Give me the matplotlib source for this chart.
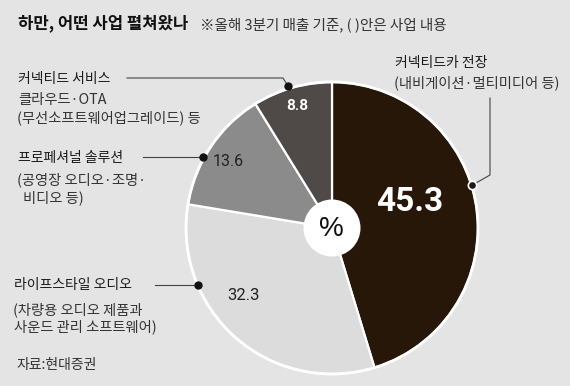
import matplotlib
matplotlib.use("Agg")
import matplotlib.pyplot as plt
from matplotlib.patches import Circle

plt.rcParams['font.family'] = ['Noto Sans CJK KR', 'DejaVu Sans']

# data
categories = ["커넥티드카 전장", "라이프스타일 오디오", "프로페셔널 솔루션", "커넥티드 서비스"]
values = [45.3, 32.3, 13.6, 8.8]
colors = ["#261709", "#dcdcdc", "#8b8b8b", "#4f4a47"]
value_labels = ["45.3", "32.3", "13.6", "8.8"]

W, H = 570, 386
BG = "#e4e4e4"
fig = plt.figure(figsize=(W / 100, H / 100), dpi=100, facecolor=BG)
ax = fig.add_axes([0, 0, 1, 1])
ax.set_facecolor(BG)

def Y(y):
    return H - y

cx, cy, R = 332, 228, 146
wedges, _ = ax.pie(values, colors=colors, startangle=90, counterclock=False,
                   center=(cx, Y(cy)), radius=R, frame=True,
                   wedgeprops=dict(edgecolor='white', linewidth=1.6))
ax.set_xlim(0, W)
ax.set_ylim(0, H)
ax.set_aspect('equal')
ax.axis('off')
ax.add_patch(Circle((cx, Y(cy)), R, fill=False, edgecolor='white', linewidth=2, zorder=3))
ax.add_patch(Circle((cx, Y(cy)), 28.5, facecolor='white', edgecolor='none', zorder=4))
ax.text(cx - 1, Y(cy + 1), "%", fontsize=20, ha='center', va='center', color='#111', zorder=5,
        family=['Liberation Sans', 'DejaVu Sans'])

# value labels
ax.text(410, Y(202), value_labels[0], fontsize=24, fontweight='bold', color='white',
        ha='center', va='center', family=['Roboto', 'DejaVu Sans'], zorder=5)
ax.text(244, Y(296), value_labels[1], fontsize=12, color='#222',
        ha='center', va='center', family=['Roboto', 'DejaVu Sans'], zorder=5)
ax.text(228, Y(162), value_labels[2], fontsize=11.5, color='#222',
        ha='center', va='center', family=['Roboto', 'DejaVu Sans'], zorder=5)
ax.text(297, Y(106), value_labels[3], fontsize=11, fontweight='bold', color='white',
        ha='center', va='center', family=['Roboto', 'DejaVu Sans'], zorder=5)

# title
ax.text(18, Y(23), "하만, 어떤 사업 펼쳐왔나", fontsize=12, fontweight='bold', color='#111',
        ha='left', va='center')
ax.text(200, Y(25), "※올해 3분기 매출 기준, ( )안은 사업 내용", fontsize=10.5, color='#333',
        ha='left', va='center')

main_kw = dict(fontsize=10, color='#1a1a1a', ha='left', va='center')
sub_kw = dict(fontsize=10.3, color='#333', ha='left', va='center')
line_kw = dict(color='#444', linewidth=0.8, zorder=6)

# 커넥티드카 전장
ax.text(395, Y(63), categories[0], **main_kw)
ax.text(394, Y(83), "(내비게이션·멀티미디어 등)", **sub_kw)
ax.plot([490, 490, 476], [Y(98), Y(175), Y(183)], **line_kw)
ax.plot([472], [Y(185)], marker='o', markersize=6, markerfacecolor='#1a1a1a',
        markeredgecolor='white', markeredgewidth=1.2, zorder=7)

# 커넥티드 서비스
ax.text(18, Y(79), categories[3], **main_kw)
ax.text(18, Y(100), "클라우드·OTA", **sub_kw)
ax.text(17, Y(118), "(무선소프트웨어업그레이드) 등", **sub_kw)
ax.plot([127, 283, 288], [Y(78), Y(78), Y(86)], **line_kw)
ax.plot([288], [Y(86)], marker='o', markersize=5, color='#111', zorder=7)

# 프로페셔널 솔루션
ax.text(18, Y(158), categories[2], **main_kw)
ax.text(17, Y(180), "(공영장 오디오·조명·", **sub_kw)
ax.text(23, Y(198), "비디오 등)", **sub_kw)
ax.plot([143, 203], [Y(157), Y(157)], **line_kw)
ax.plot([203], [Y(157)], marker='o', markersize=5, color='#111', zorder=7)

# 라이프스타일 오디오
ax.text(14, Y(285), categories[1], **main_kw)
ax.text(13, Y(310), "(차량용 오디오 제품과", **sub_kw)
ax.text(14, Y(327), "사운드 관리 소프트웨어)", **sub_kw)
ax.plot([155, 198], [Y(285), Y(285)], **line_kw)
ax.plot([198], [Y(285)], marker='o', markersize=5, color='#111', zorder=7)

# source
ax.text(16, Y(365), "자료:현대증권", fontsize=10, color='#333', ha='left', va='center')

fig.savefig("out.png", dpi=100, facecolor=BG)
